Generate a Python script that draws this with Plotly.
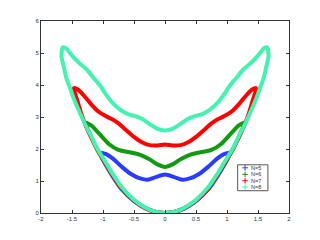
import plotly.graph_objects as go

# ---- data ----
names = ["N=5", "N=6", "N=7", "N=8"]
colors = ["#2a3cff", "#139a13", "#ff0000", "#45f2b0"]

# upper branches (left -> right)
up5_x = [-1.05, -0.95, -0.84, -0.70, -0.55, -0.40, -0.28, -0.15, 0.0, 0.15, 0.28, 0.40, 0.55, 0.70, 0.84, 0.95, 1.05]
up5_y = [1.88, 1.84, 1.70, 1.45, 1.22, 1.08, 1.04, 1.12, 1.20, 1.12, 1.04, 1.08, 1.22, 1.45, 1.70, 1.84, 1.88]

up6_x = [-1.28, -1.18, -1.08, -0.90, -0.75, -0.55, -0.40, -0.25, -0.12, 0.0, 0.12, 0.25, 0.40, 0.55, 0.75, 0.90, 1.08, 1.18, 1.28]
up6_y = [2.82, 2.72, 2.52, 2.15, 1.97, 1.89, 1.82, 1.68, 1.52, 1.44, 1.52, 1.68, 1.82, 1.89, 1.97, 2.15, 2.52, 2.72, 2.82]

up7_x = [-1.47, -1.40, -1.30, -1.20, -1.08, -0.95, -0.85, -0.75, -0.62, -0.50, -0.38, -0.25, -0.12, 0.0,
         0.12, 0.25, 0.38, 0.50, 0.62, 0.75, 0.85, 0.95, 1.08, 1.20, 1.30, 1.40, 1.47]
up7_y = [3.90, 3.85, 3.65, 3.42, 3.18, 3.02, 2.93, 2.80, 2.58, 2.38, 2.22, 2.12, 2.11, 2.14,
         2.11, 2.12, 2.22, 2.38, 2.58, 2.80, 2.93, 3.02, 3.18, 3.42, 3.65, 3.85, 3.90]

up8_x = [-1.645, -1.60, -1.50, -1.38, -1.27, -1.15, -1.05, -0.95, -0.85, -0.72, -0.60, -0.48, -0.36, -0.24, -0.12, 0.0,
         0.12, 0.24, 0.36, 0.48, 0.60, 0.72, 0.85, 0.95, 1.05, 1.15, 1.27, 1.38, 1.50, 1.60, 1.645]
up8_y = [5.18, 5.15, 4.92, 4.68, 4.50, 4.22, 3.99, 3.70, 3.45, 3.22, 3.09, 3.03, 2.93, 2.77, 2.63, 2.58,
         2.63, 2.77, 2.93, 3.03, 3.09, 3.22, 3.45, 3.70, 3.99, 4.22, 4.50, 4.68, 4.92, 5.15, 5.18]

# lower branches (right -> left)
lo5_x = [1.05, 0.95, 0.85, 0.70, 0.50, 0.30, 0.15, 0.0, -0.15, -0.30, -0.50, -0.70, -0.85, -0.95, -1.05]
lo5_y = [1.88, 1.48, 1.16, 0.74, 0.37, 0.13, 0.03, 0.0, 0.03, 0.13, 0.37, 0.74, 1.16, 1.48, 1.88]

lo6_x = [1.28, 1.20, 1.10, 0.95, 0.85, 0.70, 0.50, 0.30, 0.15, 0.0, -0.15, -0.30, -0.50, -0.70, -0.85, -0.95, -1.10, -1.20, -1.28]
lo6_y = [2.82, 2.42, 2.00, 1.52, 1.20, 0.77, 0.39, 0.14, 0.035, 0.0, 0.035, 0.14, 0.39, 0.77, 1.20, 1.52, 2.00, 2.42, 2.82]

lo7_x = [1.47, 1.42, 1.35, 1.25, 1.10, 0.95, 0.85, 0.70, 0.50, 0.30, 0.15, 0.0,
         -0.15, -0.30, -0.50, -0.70, -0.85, -0.95, -1.10, -1.25, -1.35, -1.42, -1.47]
lo7_y = [3.90, 3.55, 3.10, 2.60, 2.02, 1.53, 1.21, 0.78, 0.39, 0.14, 0.035, 0.0,
         0.035, 0.14, 0.39, 0.78, 1.21, 1.53, 2.02, 2.60, 3.10, 3.55, 3.90]

lo8_x = [1.645, 1.67, 1.63, 1.59, 1.54, 1.48, 1.40, 1.30, 1.20, 1.10, 0.95, 0.85, 0.70, 0.50, 0.30, 0.15, 0.0,
         -0.15, -0.30, -0.50, -0.70, -0.85, -0.95, -1.10, -1.20, -1.30, -1.40, -1.48, -1.54, -1.59, -1.63, -1.67, -1.645]
lo8_y = [5.18, 4.92, 4.55, 4.21, 3.95, 3.62, 3.25, 2.82, 2.44, 2.04, 1.56, 1.24, 0.81, 0.41, 0.15, 0.04, 0.0,
         0.04, 0.15, 0.41, 0.81, 1.24, 1.56, 2.04, 2.44, 2.82, 3.25, 3.62, 3.95, 4.21, 4.55, 4.92, 5.18]

x_ticks = [-2, -1.5, -1, -0.5, 0, 0.5, 1, 1.5, 2]
x_tick_text = ["-2", "-1.5", "-1", "-0.5", "0", "0.5", "1", "1.5", "2"]
y_ticks = [0, 1, 2, 3, 4, 5, 6]

uppers = [(up5_x, up5_y), (up6_x, up6_y), (up7_x, up7_y), (up8_x, up8_y)]
lowers = [(lo5_x, lo5_y), (lo6_x, lo6_y), (lo7_x, lo7_y), (lo8_x, lo8_y)]

fig = go.Figure()
for name, col, (ux, uy), (lx, ly) in zip(names, colors, uppers, lowers):
    fig.add_trace(go.Scatter(
        x=ux + lx[1:], y=uy + ly[1:], mode="lines", name=name,
        line=dict(color=col, width=4, shape="spline", smoothing=0.8),
        showlegend=False, hoverinfo="skip"))

# ---- hand-made legend (MATLAB-like compact box) ----
leg_x0, leg_x1, leg_y0, leg_y1 = 0.793, 0.915, 0.116, 0.251
leg_mark_x, leg_text_x = 0.823, 0.840
leg_rows = [0.2355, 0.201, 0.168, 0.135]

fig.add_shape(type="rect", xref="paper", yref="paper",
              x0=leg_x0, x1=leg_x1, y0=leg_y0, y1=leg_y1,
              line=dict(color="#555", width=1), fillcolor="white", layer="below")
fig.add_trace(go.Scatter(
    x=[leg_mark_x] * len(names), y=leg_rows, xaxis="x2", yaxis="y2",
    mode="markers", showlegend=False, hoverinfo="skip",
    marker=dict(symbol="cross-thin", size=4, color=colors,
                line=dict(color=colors, width=1))))
for name, ry in zip(names, leg_rows):
    fig.add_annotation(x=leg_text_x, y=ry, xref="paper", yref="paper", text=name,
                       showarrow=False, xanchor="left", yanchor="middle",
                       font=dict(size=5.5, color="#333", family="Liberation Sans"))

axis_common = dict(showline=True, linecolor="#333", linewidth=1, mirror="ticks",
                   ticks="inside", ticklen=3, tickcolor="#333", showgrid=False,
                   zeroline=False, tickfont=dict(size=6, color="#333", family="Liberation Sans"))
fig.update_xaxes(range=[-2, 2], tickvals=x_ticks, ticktext=x_tick_text, **axis_common)
fig.update_yaxes(range=[0, 6], tickvals=y_ticks, **axis_common)

# page body has an 8px default margin, so the figure is shifted by 8px
fig.update_layout(
    width=312, height=232,
    margin=dict(l=33, r=31, t=10, b=27, pad=0),
    paper_bgcolor="white", plot_bgcolor="white",
    font=dict(family="Liberation Sans", size=6, color="#333"),
    showlegend=False,
    xaxis2=dict(domain=[0, 1], range=[0, 1], overlaying="x", visible=False, fixedrange=True),
    yaxis2=dict(domain=[0, 1], range=[0, 1], overlaying="y", visible=False, fixedrange=True),
)
fig.write_html("out.html")
